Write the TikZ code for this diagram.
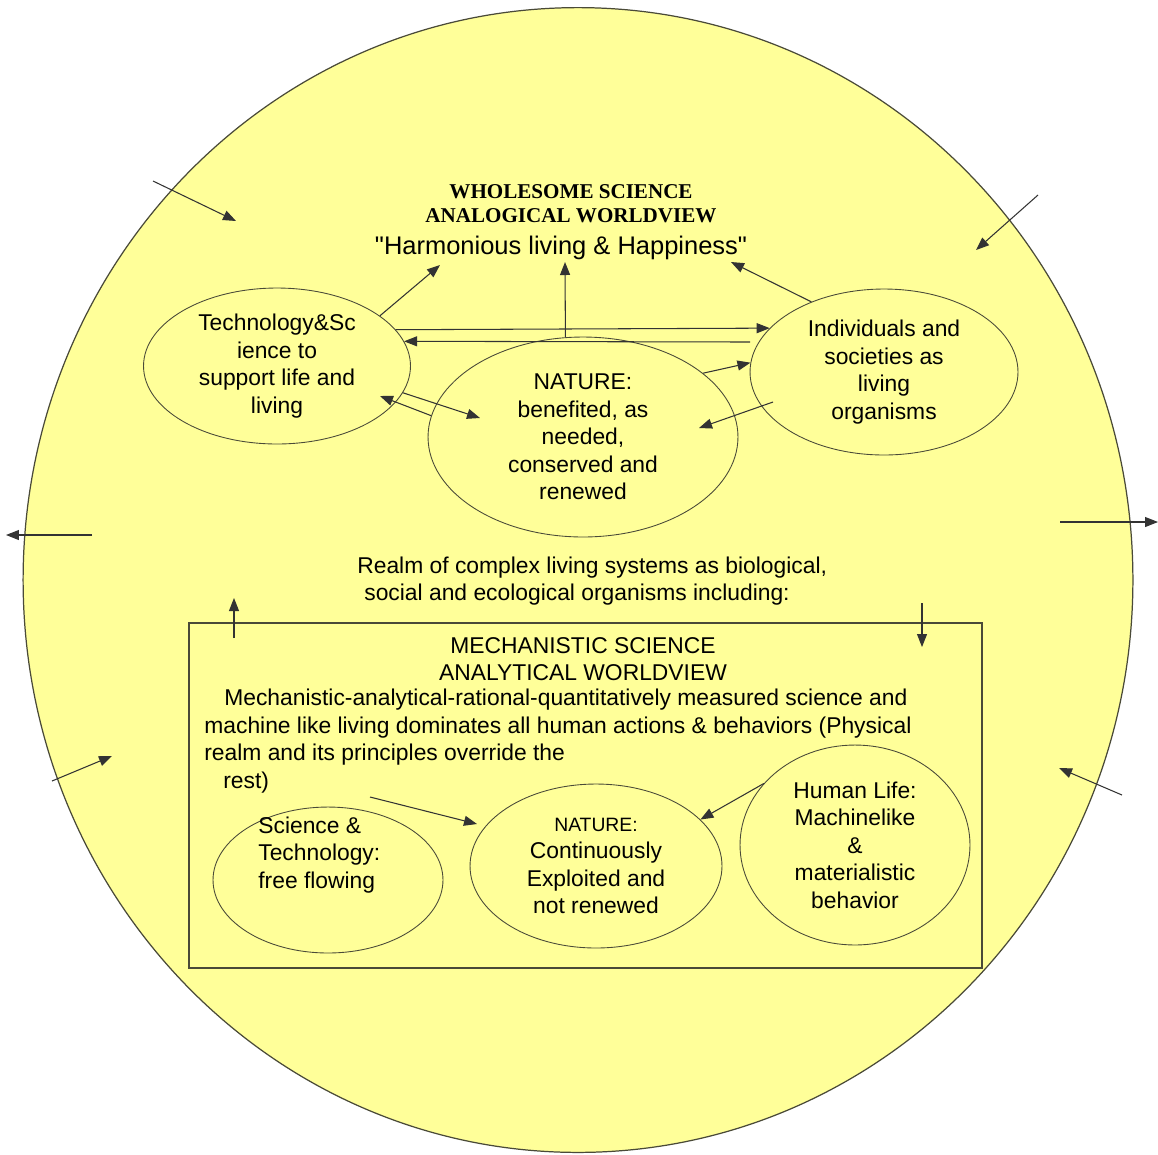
\documentclass[tikz,border=0pt]{standalone}
\usepackage{fontspec}
\setmainfont{Liberation Sans}
\newfontfamily\titlefont{Liberation Serif}
\usetikzlibrary{shapes.geometric,arrows.meta}
\definecolor{paleyellow}{HTML}{FFFF99}
\definecolor{rim}{HTML}{4A4A38}
\begin{document}
\begin{tikzpicture}[x=0.02cm, y=-0.02cm,
    blob/.style={ellipse, draw=rim, align=center, inner sep=0pt, line width=0.5pt,
                 font=\fontsize{13}{15.6}\selectfont},
    txt/.style={inner sep=0pt, font=\fontsize{13}{15.6}\selectfont},
    arr/.style={-{Triangle[length=2.6mm,width=2mm]}, draw=black!80, line width=0.6pt}]
  \useasboundingbox (0,0) rectangle (1158,1154);
  \node[ellipse, draw=rim, fill=paleyellow, line width=0.7pt,
        minimum width=22.2cm, minimum height=22.9cm] (world) at (578,580) {};
  % upper realm
  \node[inner sep=0pt, align=center, font=\titlefont\bfseries\fontsize{12}{13.6}\selectfont]
        (whole) at (571,204) {WHOLESOME SCIENCE\\ANALOGICAL WORLDVIEW};
  \node[txt, font=\fontsize{14.5}{16}\selectfont] (harmony) at (561,248)
        {\textquotedbl Harmonious living \& Happiness\textquotedbl};
  \node[blob, minimum width=5.34cm, minimum height=3.12cm] (ts) at (277,366)
        {Technology\&Sc\\ience to\\support life and\\living};
  \node[blob, minimum width=6.2cm, minimum height=4cm] (nature) at (583,437)
        {NATURE:\\benefited, as\\needed,\\conserved and\\renewed};
  \node[blob, minimum width=5.36cm, minimum height=3.32cm] (indiv) at (884,372)
        {Individuals and\\societies as\\living\\organisms};
  \node[txt, align=left, anchor=west] (realm) at (357,581)
        {Realm of complex living systems as biological,\\\hspace*{0.14cm}social and ecological organisms including:};
  % lower realm
  \draw[rim, line width=0.8pt] (189,623) rectangle (982,968);
  \node[txt, align=center] (mech) at (583,659) {MECHANISTIC SCIENCE\\ANALYTICAL WORLDVIEW};
  \node[txt, align=left, anchor=west] (rule) at (204,741)
        {\hspace*{0.4cm}Mechanistic-analytical-rational-quantitatively measured science and\\
         machine like living dominates all human actions \& behaviors (Physical\\
         realm and its principles override the\\
         \hspace*{0.38cm}rest)};
  \node[blob, minimum width=4.6cm, minimum height=2.92cm] (st) at (328,880) {};
  \node[txt, align=left, anchor=west] (sttext) at (258,855) {Science \&\\Technology:\\free flowing};
  \node[blob, minimum width=5.04cm, minimum height=3.28cm] (nature2) at (596,866)
        {{\fontsize{11}{13}\selectfont NATURE:}\\Continuously\\Exploited and\\not renewed};
  \node[blob, minimum width=4.6cm, minimum height=4cm] (human) at (855,845)
        {Human Life:\\Machinelike\\\&\\materialistic\\behavior};
  % free ends
  \coordinate (hl) at (440,265);
  \coordinate (hm) at (565,262);
  \coordinate (hr) at (731,262);
  \coordinate (tsr) at (750,342);
  \coordinate (indin) at (773,402);
  \coordinate (natr) at (699,428);
  \coordinate (natl) at (480,418);
  \coordinate (tsin) at (380,396);
  \coordinate (rest) at (370,797);
  \coordinate (natin) at (477,824);
  \coordinate (tl0) at (153,181);  \coordinate (tl1) at (236,221);
  \coordinate (tr0) at (1038,195); \coordinate (tr1) at (976,250);
  \coordinate (l0) at (92,535);    \coordinate (l1) at (6,535);
  \coordinate (r0) at (1060,522);  \coordinate (r1) at (1158,522);
  \coordinate (bl0) at (52,781);   \coordinate (bl1) at (112,756);
  \coordinate (br0) at (1122,795); \coordinate (br1) at (1059,768);
  \coordinate (up0) at (234,638);  \coordinate (up1) at (234,598);
  \coordinate (dn0) at (922,603);  \coordinate (dn1) at (922,647);
  % connectors
  \draw[arr] (ts.26) -- (hl);
  \draw[arr] (nature.100) -- (hm);
  \draw[arr] (indiv.136) -- (hr);
  \draw[arr] (ts.17) -- (indiv.159);
  \draw[arr] (tsr) -- (ts.11);
  \draw[arr] (nature.28) -- (indiv.176);
  \draw[arr] (indin) -- (natr);
  \draw[arr] (ts.-12) -- (natl);
  \draw[arr] (nature.172) -- (tsin);
  \draw[arr] (rest) -- (natin);
  \draw[arr] (human.146) -- (nature2.24);
  \draw[arr] (tl0) -- (tl1);
  \draw[arr] (tr0) -- (tr1);
  \draw[arr] (l0) -- (l1);
  \draw[arr] (r0) -- (r1);
  \draw[arr] (bl0) -- (bl1);
  \draw[arr] (br0) -- (br1);
  \draw[arr] (up0) -- (up1);
  \draw[arr] (dn0) -- (dn1);
\end{tikzpicture}
\end{document}
